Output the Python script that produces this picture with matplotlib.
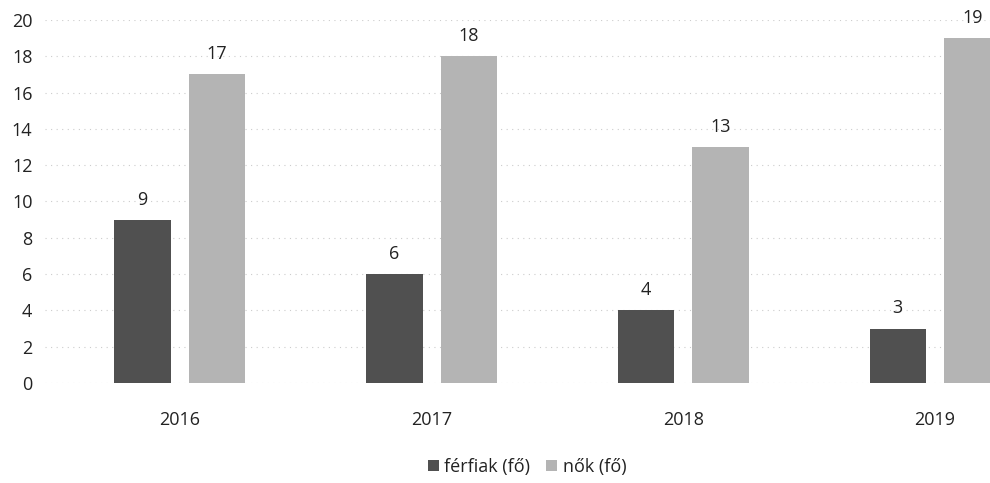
import matplotlib
matplotlib.use("Agg")
import matplotlib.pyplot as plt
import numpy as np

years = ["2016", "2017", "2018", "2019"]
ferfiak = [9, 6, 4, 3]
nok = [17, 18, 13, 19]
yticks = list(range(0, 21, 2))
series_labels = ["férfiak (fő)", "nők (fő)"]

plt.rcParams['font.family'] = ['Open Sans', 'DejaVu Sans']

fig = plt.figure(figsize=(9.9, 4.83), dpi=100)
W, H = 990, 483
ax = fig.add_axes([45 / W, 1 - 383 / H, 1 - 45 / W, (383 - 20) / H])

x = np.arange(len(years))
width = 0.225
off = 0.148
c_m = "#505050"
c_w = "#b4b4b4"
b1 = ax.bar(x - off, ferfiak, width, color=c_m, label=series_labels[0], zorder=3)
b2 = ax.bar(x + off, nok, width, color=c_w, label=series_labels[1], zorder=3)

for bars, vals in ((b1, ferfiak), (b2, nok)):
    for b, v in zip(bars, vals):
        ax.annotate(str(v), (b.get_x() + b.get_width() / 2, v), xytext=(0, 8),
                    textcoords="offset points", ha="center", va="bottom",
                    fontsize=13, color="#222222")

ax.set_xlim(-0.536, (990 - 180) / 251.7)
ax.set_ylim(0, 20)
ax.set_yticks(yticks)
ax.set_yticklabels([str(t) for t in yticks], fontsize=13, color="#222222")
ax.set_xticks(x)
ax.set_xticklabels(years, fontsize=13, color="#222222")
ax.tick_params(axis="both", length=0)
ax.tick_params(axis="y", pad=9)
ax.tick_params(axis="x", pad=20)
for s in ax.spines.values():
    s.set_visible(False)
ax.yaxis.grid(True, color="#cccccc", linestyle=(0, (1, 4)), linewidth=0.8, zorder=0)
ax.set_axisbelow(True)

fig.legend(handles=[b1, b2], labels=series_labels, loc="center",
           bbox_to_anchor=(527 / W, 1 - 467 / H), ncol=2, frameon=False,
           fontsize=13, handlelength=0.6, handleheight=0.6, handletextpad=0.3,
           columnspacing=0.9, labelcolor="#222222")

fig.savefig("out.png", dpi=100)
